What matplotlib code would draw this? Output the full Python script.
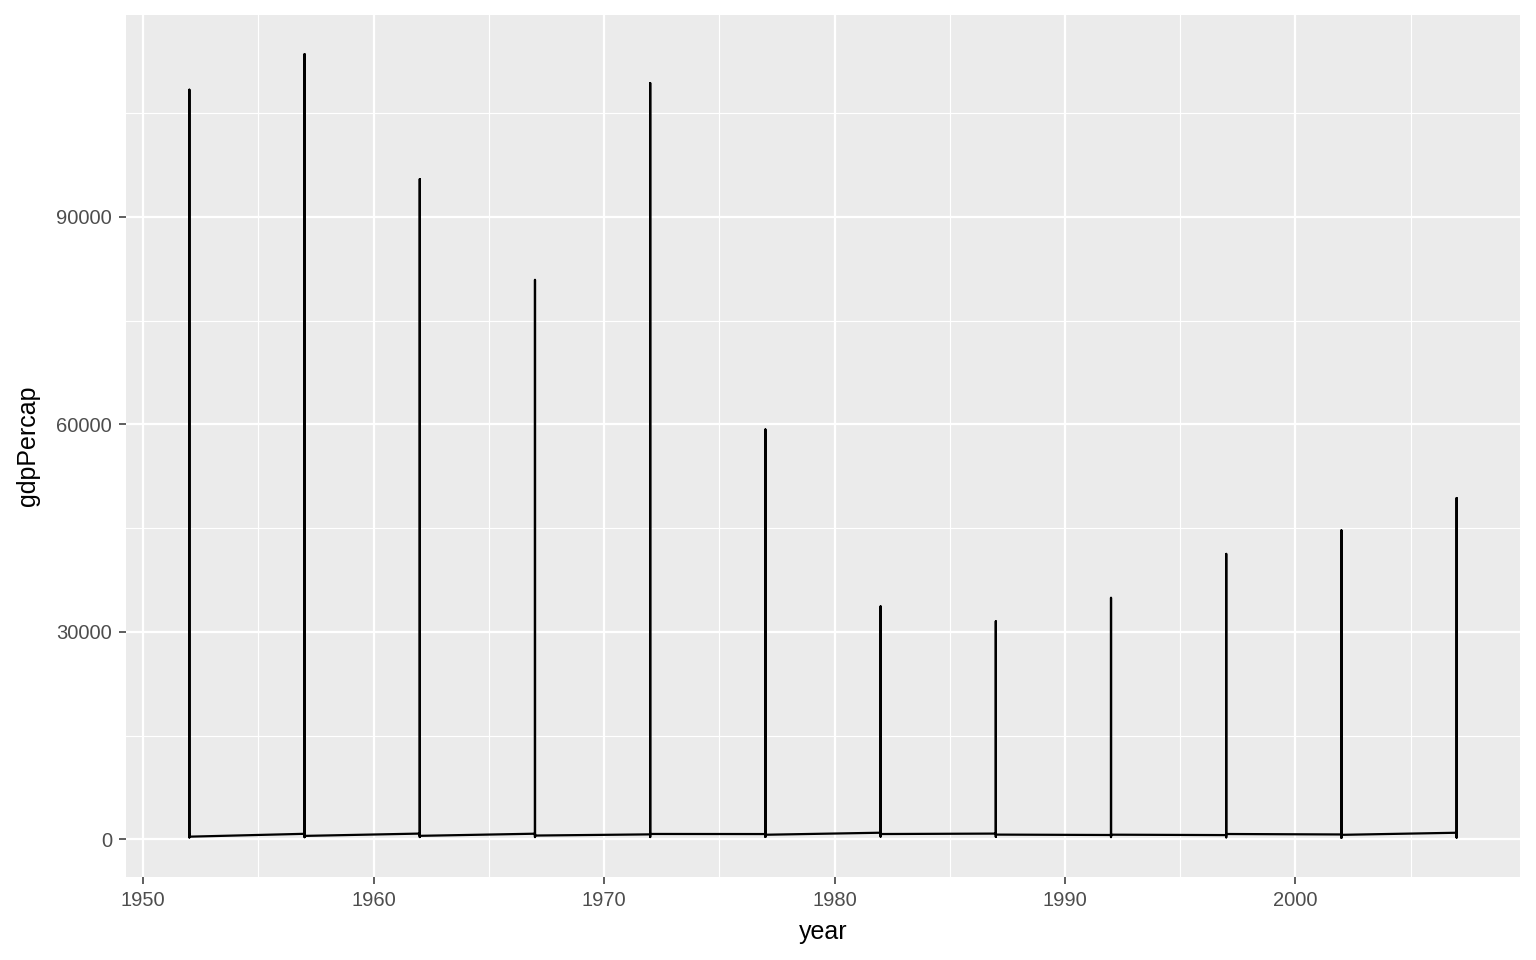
import matplotlib.pyplot as plt
from matplotlib.ticker import MultipleLocator

plt.rcParams["font.family"] = ["Liberation Sans", "DejaVu Sans"]

# gapminder gdpPercap, all countries drawn as one line ordered by year
years = [1952, 1957, 1962, 1967, 1972, 1977, 1982, 1987, 1992, 1997, 2002, 2007]
gdp_min = [298.8, 336.0, 355.2, 349.0, 357.0, 371.0, 424.0, 385.0, 347.0, 312.2, 241.2, 277.6]
gdp_max = [108382, 113523, 95458, 80895, 109348, 59265, 33693, 31541, 34933, 41283, 44684, 49357]
first_country = [779.4, 820.9, 853.1, 836.2, 740.0, 786.1, 978.0, 852.4, 649.3, 635.3, 726.7, 974.6]
last_country = [406.9, 518.8, 527.3, 569.8, 799.4, 685.6, 788.9, 706.2, 693.4, 792.4, 672.0, 469.7]

xs, ys = [], []
for yr, a, lo, hi, z in zip(years, first_country, gdp_min, gdp_max, last_country):
    xs += [yr, yr, yr, yr]
    ys += [a, lo, hi, z]

fig = plt.figure(figsize=(15.36, 9.6), dpi=100)
ax = fig.add_axes([126 / 1536, 83 / 960, (1520 - 126) / 1536, (877 - 15) / 960])
ax.set_facecolor("#EBEBEB")

ax.plot(xs, ys, color="black", linewidth=1.6, zorder=3)

xr = max(years) - min(years)
ax.set_xlim(min(years) - 0.05 * xr, max(years) + 0.05 * xr)
yr_ = max(gdp_max) - min(gdp_min)
ax.set_ylim(min(gdp_min) - 0.05 * yr_, max(gdp_max) + 0.05 * yr_)

ax.xaxis.set_major_locator(MultipleLocator(10))
ax.xaxis.set_minor_locator(MultipleLocator(5))
ax.yaxis.set_major_locator(MultipleLocator(30000))
ax.yaxis.set_minor_locator(MultipleLocator(15000))
ax.grid(which="major", color="white", linewidth=1.6)
ax.grid(which="minor", color="white", linewidth=0.8)
ax.set_axisbelow(True)

for s in ax.spines.values():
    s.set_visible(False)

ax.tick_params(which="major", length=5, width=1.1, color="#333333",
               labelcolor="#4D4D4D", labelsize=14.5, pad=5)
ax.tick_params(which="minor", length=0)

ax.set_xlabel("year", fontsize=18, labelpad=7)
ax.set_ylabel("gdpPercap", fontsize=18, labelpad=12)

fig.savefig("out.png", dpi=100, facecolor="white")
